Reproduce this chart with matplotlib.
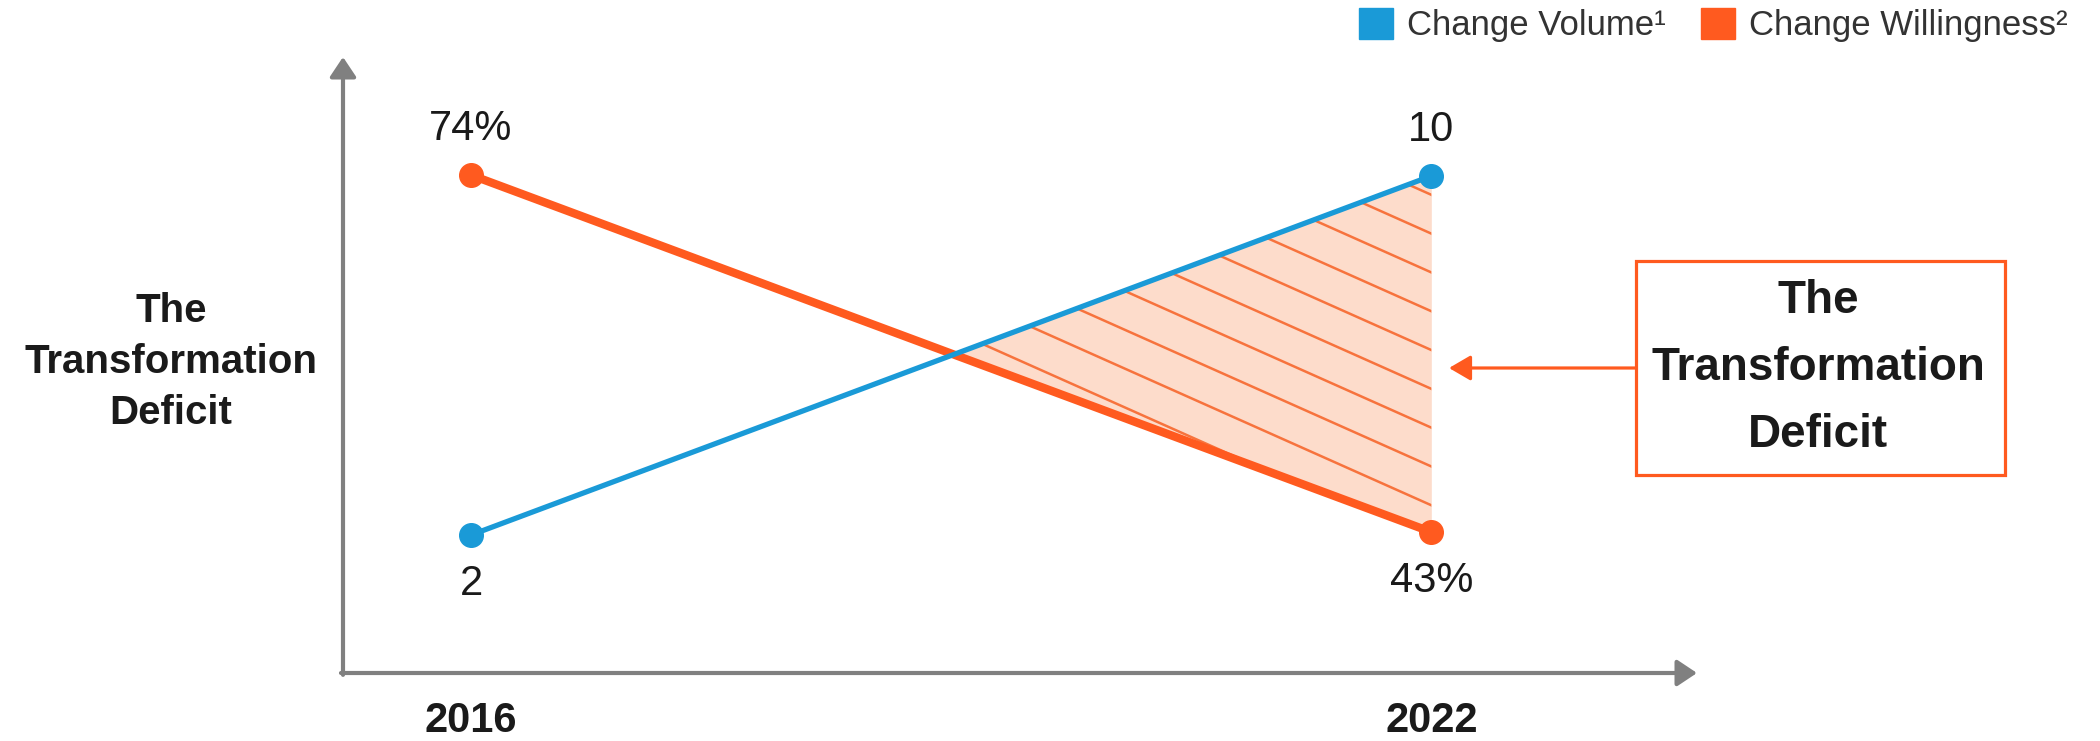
import numpy as np
import matplotlib
matplotlib.use('Agg')
import matplotlib.pyplot as plt
import matplotlib.transforms as mtransforms
from matplotlib.patches import Patch, Rectangle, FancyArrowPatch

plt.rcParams['font.family'] = ['Liberation Sans', 'DejaVu Sans']

# --- data ---
years = [2016, 2022]
change_volume = [2, 10]          # blue series (count)
change_willingness = [74, 43]    # orange series (%)
series_names = ["Change Volume\u00b9", "Change Willingness\u00b2"]
axis_label = "The\nTransformation\nDeficit"
callout_text = "The\nTransformation\nDeficit"

BLUE = '#1A9AD7'
ORANGE = '#FF5A1F'
FILL = '#FDDCCB'
HATCH = '#F7733D'
GREY = '#808080'
TEXT = '#1A1A1A'

fig = plt.figure(figsize=(21, 7.41), dpi=100)
W, H = 2100, 741

# axes box in pixels: left spine x=343, bottom spine y=673, arrow tips at x=1697 / y=57
ax = fig.add_axes([343 / W, (H - 673) / H, (1697 - 343) / W, (673 - 57) / H])
axb = ax.twinx()

ax.set_xlim(2015.2, 2023.66)
ax.set_ylim(30.76, 84.25)      # willingness scale
axb.set_ylim(-1.075, 12.65)    # volume scale
ax.set_autoscale_on(False)
axb.set_autoscale_on(False)

for a in (ax, axb):
    for s in a.spines.values():
        s.set_visible(False)
    a.set_yticks([])
axb.set_xticks([])

# year labels on the x axis
ax.set_xticks(years)
ax.set_xticklabels([str(y) for y in years], fontsize=30, fontweight='bold', color=TEXT)
ax.tick_params(axis='x', length=0, pad=20)

# axis arrows
arrow_kw = dict(arrowstyle='-|>,head_length=0.6,head_width=0.4', color=GREY, lw=3,
                shrinkA=0, shrinkB=0, mutation_scale=20)
ax.annotate('', xy=(0, 1), xytext=(0, -0.003), xycoords='axes fraction',
            arrowprops=arrow_kw, annotation_clip=False)
ax.annotate('', xy=(1, 0), xytext=(-0.0015, 0), xycoords='axes fraction',
            arrowprops=arrow_kw, annotation_clip=False)

# both series in axes-fraction so the gap between them can be filled
def to_frac(vals, a):
    lo, hi = a.get_ylim()
    return (np.asarray(vals, dtype=float) - lo) / (hi - lo)

vol_f = to_frac(change_volume, axb)
will_f = to_frac(change_willingness, ax)
blend = mtransforms.blended_transform_factory(ax.transData, ax.transAxes)

gap = ax.fill_between(years, vol_f, will_f, where=vol_f >= will_f, interpolate=True,
                      transform=blend, color=FILL, lw=0, zorder=1)
gap_path = gap.get_paths()[0]

# slanted hatch lines clipped to the deficit area
slope = -0.98
for off in np.arange(-0.2, 1.6, 0.063):
    ln, = ax.plot([0, 1], [off, off + slope], color=HATCH, lw=1.8,
                  transform=ax.transAxes, zorder=2, solid_capstyle='butt')
    ln.set_clip_path(gap_path, blend)

ax.plot(years, change_willingness, color=ORANGE, lw=6, marker='o', ms=17,
        zorder=3, solid_capstyle='round')
axb.plot(years, change_volume, color=BLUE, lw=3.8, marker='o', ms=17,
         zorder=4, solid_capstyle='round')

# value labels: above the upper point, below the lower point
for i, yr in enumerate(years):
    up_vol = vol_f[i] > will_f[i]
    axb.annotate(str(change_volume[i]), (yr, change_volume[i]),
                 xytext=(0, 33 if up_vol else -35), textcoords='offset points',
                 ha='center', va='center', fontsize=30, color=TEXT)
    ax.annotate(f"{change_willingness[i]}%", (yr, change_willingness[i]),
                xytext=(0, -35 if up_vol else 33), textcoords='offset points',
                ha='center', va='center', fontsize=30, color=TEXT)

# y axis label on the left
fig.text(171 / W, 1 - 362 / H, axis_label, ha='center', va='center',
         fontsize=29, fontweight='bold', color=TEXT, linespacing=1.42)

# callout box with arrow pointing at the shaded area
fig.patches.append(Rectangle((1636 / W, 1 - 475 / H), 369 / W, 214 / H,
                             transform=fig.transFigure, fill=False,
                             edgecolor=ORANGE, lw=2.3))
fig.text(1818 / W, 1 - 368 / H, callout_text, ha='center', va='center',
         fontsize=33, fontweight='bold', color=TEXT, linespacing=1.68)
fig.add_artist(FancyArrowPatch(
    (1636 / W, 1 - 368 / H), (1449 / W, 1 - 368 / H), transform=fig.transFigure,
    arrowstyle='-|>,head_length=0.6,head_width=0.35', mutation_scale=22,
    color=ORANGE, lw=2.3, shrinkA=0, shrinkB=0))

# legend top right
handles = [Patch(color=BLUE), Patch(color=ORANGE)]
fig.legend(handles, series_names, loc='upper right', bbox_to_anchor=(2068 / W, 1 - 8 / H),
           ncol=2, frameon=False, fontsize=25, handlelength=1.0, handleheight=1.0,
           handletextpad=0.4, columnspacing=1.0, borderpad=0, borderaxespad=0,
           labelcolor='#333333')

fig.savefig('out.png', dpi=100)
